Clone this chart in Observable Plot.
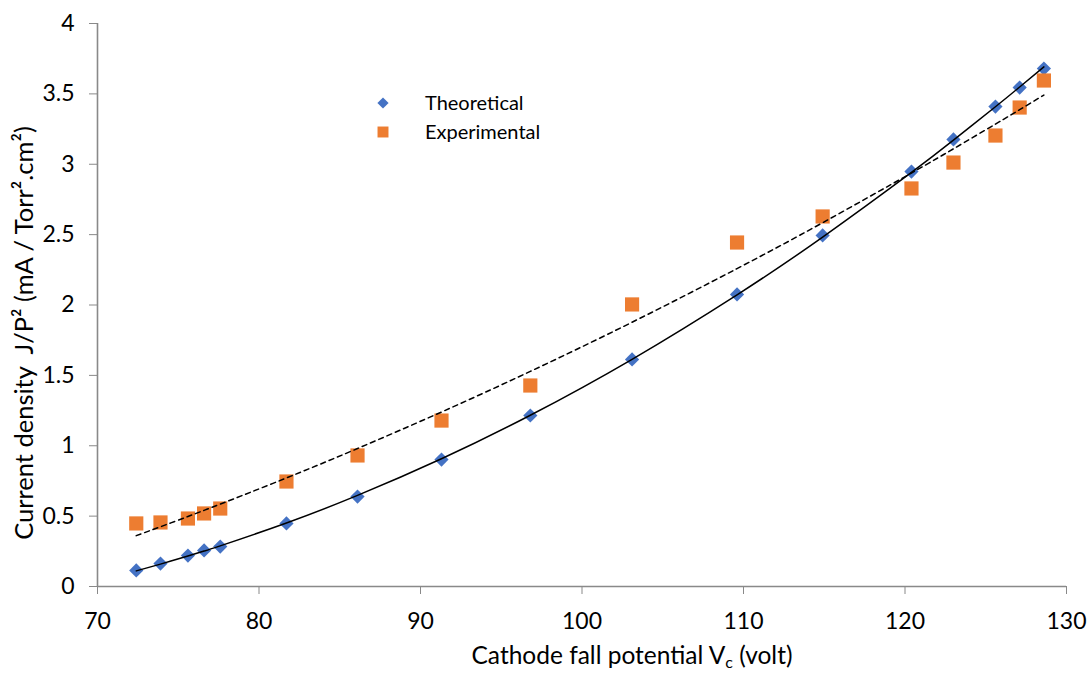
<!DOCTYPE html>
<html>
<head>
<meta charset="utf-8">
<script src="https://cdn.jsdelivr.net/npm/d3@7"></script>
<script src="https://cdn.jsdelivr.net/npm/@observablehq/plot@0.6"></script>
<style>
  html, body { margin: 0; padding: 0; background: #fff; }
  #chart svg { display: block; }
</style>
</head>
<body>
<div id="chart"></div>
<script>
// ---- data ----
const voltage = [72.4, 73.9, 75.6, 76.6, 77.6, 81.7, 86.1, 91.3, 96.8, 103.1, 109.6, 114.9, 120.4, 123.0, 125.6, 127.1, 128.6];
const theoretical = [0.114, 0.163, 0.220, 0.256, 0.284, 0.448, 0.639, 0.902, 1.215, 1.613, 2.075, 2.494, 2.948, 3.176, 3.410, 3.545, 3.680];
const experimental = [0.448, 0.455, 0.483, 0.519, 0.554, 0.746, 0.931, 1.179, 1.428, 2.004, 2.444, 2.629, 2.828, 3.012, 3.204, 3.403, 3.595];
const seriesNames = ["Theoretical", "Experimental"];
const seriesColors = ["#4472C4", "#ED7D31"];
const xTicks = [70, 80, 90, 100, 110, 120, 130];
const yTicks = [0, 0.5, 1, 1.5, 2, 2.5, 3, 3.5, 4];
const xTitle = "Cathode fall potential V";
const xTitleSub = "c";
const xTitleEnd = " (volt)";
const yTitle = "Current density  J/P\u00B2 (mA / Torr\u00B2.cm\u00B2)";

// ---- quadratic least-squares trend (as the spreadsheet trendline) ----
function fitQuadratic(xs, ys) {
  const n = xs.length;
  let s = [0, 0, 0, 0, 0], t = [0, 0, 0];
  for (let i = 0; i < n; i++) {
    const x = xs[i], y = ys[i];
    for (let k = 0; k < 5; k++) s[k] += Math.pow(x, k);
    for (let k = 0; k < 3; k++) t[k] += Math.pow(x, k) * y;
  }
  const A = [[s[0], s[1], s[2], t[0]], [s[1], s[2], s[3], t[1]], [s[2], s[3], s[4], t[2]]];
  for (let c = 0; c < 3; c++) {
    for (let r = c + 1; r < 3; r++) {
      const f = A[r][c] / A[c][c];
      for (let k = c; k < 4; k++) A[r][k] -= f * A[c][k];
    }
  }
  const b = [0, 0, 0];
  for (let r = 2; r >= 0; r--) {
    let v = A[r][3];
    for (let k = r + 1; k < 3; k++) v -= A[r][k] * b[k];
    b[r] = v / A[r][r];
  }
  return x => b[0] + b[1] * x + b[2] * x * x;
}

const theoData = voltage.map((v, i) => ({v, j: theoretical[i]}));
const expData = voltage.map((v, i) => ({v, j: experimental[i]}));
const fT = fitQuadratic(voltage, theoretical);
const fE = fitQuadratic(voltage, experimental);
const theoFit = voltage.map(v => ({v, j: fT(v)}));
const expFit = voltage.map(v => ({v, j: fE(v)}));

const FONT = "Lato, 'Open Sans', sans-serif";
const AXIS_GREY = "#898989";

const chart = Plot.plot({
  width: 1090,
  height: 675,
  marginLeft: 97,
  marginRight: 24,
  marginTop: 23,
  marginBottom: 89,
  style: {fontFamily: FONT, fontSize: "23px", color: "#000", background: "#fff", overflow: "visible"},
  x: {domain: [70, 130], label: null},
  y: {domain: [0, 4], label: null},
  marks: [
    Plot.axisX({ticks: xTicks, tickSize: 8, tickPadding: 18, stroke: AXIS_GREY, fill: "#000", fontSize: 23, label: null, tickFormat: d => String(d)}),
    Plot.axisY({ticks: yTicks, tickSize: 8, tickPadding: 15, stroke: AXIS_GREY, fill: "#000", fontSize: 23, label: null, tickFormat: d => String(d)}),
    Plot.ruleY([0], {stroke: AXIS_GREY, strokeWidth: 1.6}),
    Plot.ruleX([70], {stroke: AXIS_GREY, strokeWidth: 1.6}),
    Plot.dot(theoData, {x: "v", y: "j", symbol: "diamond2", fill: seriesColors[0], r: 6.4}),
    Plot.dot(expData, {x: "v", y: "j", symbol: "square", fill: seriesColors[1], r: 8}),
    Plot.line(theoFit, {x: "v", y: "j", stroke: "#000", strokeWidth: 1.5, curve: "natural"}),
    Plot.line(expFit, {x: "v", y: "j", stroke: "#000", strokeWidth: 1.5, strokeDasharray: "5,4", curve: "natural"})
  ]
});

document.getElementById("chart").appendChild(chart);

// ---- titles and legend ----
const svg = d3.select(chart);

const xt = svg.append("text")
  .attr("x", 632).attr("y", 664)
  .attr("text-anchor", "middle")
  .attr("font-family", FONT).attr("font-size", 24.5).attr("fill", "#000");
xt.append("tspan").text(xTitle);
xt.append("tspan").attr("font-size", 16).attr("dy", 4).text(xTitleSub);
xt.append("tspan").attr("dy", -4).text(xTitleEnd);

svg.append("text")
  .attr("transform", "translate(33,333) rotate(-90)")
  .attr("text-anchor", "middle")
  .attr("font-family", FONT).attr("font-size", 25.5).attr("fill", "#000")
  .text(yTitle);

const legend = svg.append("g")
  .attr("font-family", FONT).attr("font-size", 20).attr("fill", "#000")
  .attr("text-anchor", "start");
const legendSymbols = [d3.symbolDiamond2, d3.symbolSquare];
const legendSizes = [80, 120];
seriesNames.forEach((name, i) => {
  const y = 103 + i * 29;
  legend.append("path")
    .attr("transform", `translate(383,${y})`)
    .attr("d", d3.symbol(legendSymbols[i], legendSizes[i])())
    .attr("fill", seriesColors[i]);
  legend.append("text")
    .attr("x", 425).attr("y", y).attr("dy", "0.35em")
    .attr("text-anchor", "start")
    .text(name);
});
</script>
</body>
</html>
